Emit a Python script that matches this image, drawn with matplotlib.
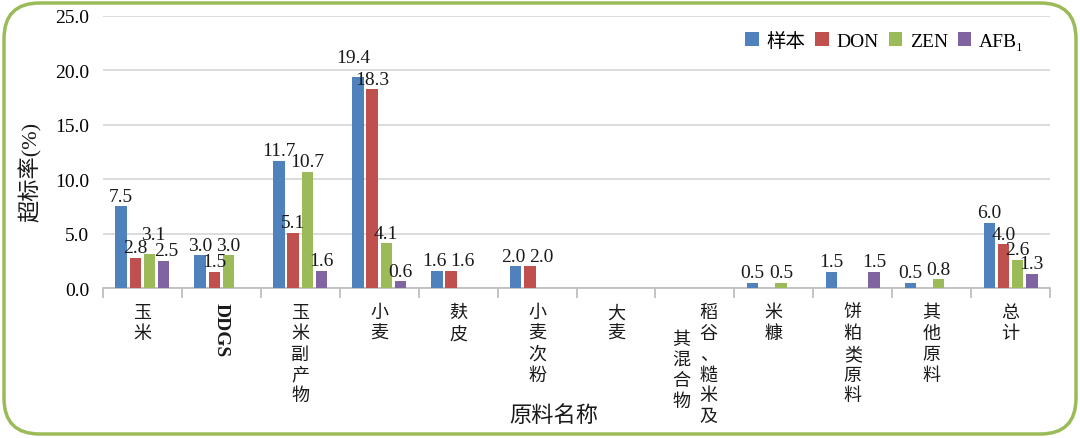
import numpy as np
import matplotlib
matplotlib.use("Agg")
import matplotlib.pyplot as plt
from matplotlib.patches import FancyBboxPatch

plt.rcParams['font.family'] = ['Liberation Serif', 'Noto Sans CJK SC', 'DejaVu Sans']

# data
categories = ["玉米", "DDGS", "玉米副产物", "小麦", "麸皮", "小麦次粉", "大麦",
              "稻谷、糙米及其混合物", "米糠", "饼粕类原料", "其他原料", "总计"]
nan = np.nan
yangben = [7.5, 3.0, 11.7, 19.4, 1.6, 2.0, nan, nan, 0.5, 1.5, 0.5, 6.0]
don = [2.8, 1.5, 5.1, 18.3, 1.6, 2.0, nan, nan, nan, nan, nan, 4.0]
zen = [3.1, 3.0, 10.7, 4.1, nan, nan, nan, nan, 0.5, nan, 0.8, 2.6]
afb1 = [2.5, nan, 1.6, 0.6, nan, nan, nan, nan, nan, 1.5, nan, 1.3]
series_names = ["样本", "DON", "ZEN", "AFB₁"]
colors = ["#4F81BD", "#C0504D", "#9BBB59", "#8064A2"]

# small shifts of some value labels (points), as Excel placed them
label_nudge = {(2, 0): (3, 7), (0, 3): (-3, 7), (1, 4): (8, 0), (1, 5): (8, 0),
               (0, 4): (-2, 0), (0, 5): (-2, 0), (3, 0): (2, 0)}

fig = plt.figure(figsize=(10.8, 4.39), dpi=100)
ax = fig.add_axes([103 / 1080, 1 - 289 / 439, 947 / 1080, 272 / 439])

# green rounded frame
frame = FancyBboxPatch((4 / 1080, 4 / 439), 1072 / 1080, 431 / 439,
                       boxstyle="round,pad=0,rounding_size=0.033",
                       transform=fig.transFigure, fill=False,
                       edgecolor="#9BBB59", linewidth=2.5, zorder=0,
                       mutation_aspect=1080 / 439)
fig.patches.append(frame)

x = np.arange(len(categories))
width = 0.145
offsets = [-0.27, -0.09, 0.09, 0.27]
all_series = [yangben, don, zen, afb1]

for si, (vals, off, col, name) in enumerate(zip(all_series, offsets, colors, series_names)):
    arr = np.array(vals, dtype=float)
    ax.bar(x + off, np.nan_to_num(arr), width, color=col, label=name, zorder=3)
    for ci, v in enumerate(arr):
        if not np.isnan(v):
            dx, dy = label_nudge.get((si, ci), (0, 0))
            ax.annotate(f"{v:.1f}", xy=(ci + off, v), xytext=(dx, 1 + dy),
                        textcoords="offset points", ha="center", va="bottom",
                        fontsize=14, color="#1a1a1a", zorder=4)

ax.set_xlim(-0.5, len(categories) - 0.5)
ax.set_ylim(0, 25)
ax.set_yticks(np.arange(0, 25.1, 5))
ax.set_yticklabels([f"{t:.1f}" for t in np.arange(0, 25.1, 5)], fontsize=14)
ax.yaxis.grid(True, color="#D9D9D9", linewidth=1.3, zorder=0)
ax.set_axisbelow(True)
ax.tick_params(axis="y", length=0, pad=10)

for s in ["top", "right", "left"]:
    ax.spines[s].set_visible(False)
ax.spines["bottom"].set_color("#BFBFBF")
ax.spines["bottom"].set_linewidth(1.3)

ax.set_xticks(np.arange(-0.5, len(categories)))
ax.set_xticklabels([])
ax.tick_params(axis="x", length=7, color="#BFBFBF", width=1.3, direction="out")

# vertical category labels
cjk = dict(ha="center", va="top", fontsize=13, linespacing=1.2,
           family="Noto Sans CJK SC", color="#1a1a1a",
           xycoords=("data", "axes fraction"), textcoords="offset points")
for i, cat in enumerate(categories):
    if cat == "DDGS":
        ax.annotate(cat, xy=(i, 0), xycoords=("data", "axes fraction"),
                    xytext=(0, -10), textcoords="offset points",
                    ha="center", va="top", rotation=-90, fontsize=14,
                    fontweight="bold", color="#1a1a1a")
    elif cat == "稻谷、糙米及其混合物":
        ax.annotate("\n".join("稻谷、糙米及"), xy=(i, 0), xytext=(10, -11), **cjk)
        ax.annotate("\n".join("其混合物"), xy=(i, 0), xytext=(-10, -30), **cjk)
    else:
        ax.annotate("\n".join(cat), xy=(i, 0), xytext=(0, -11), **cjk)

fig.text(554 / 1080, 1 - 416 / 439, "原料名称", ha="center", va="center",
         fontsize=16, family="Noto Sans CJK SC", color="#1a1a1a")
fig.text(30 / 1080, 1 - 172 / 439, "超标率(%)", ha="center", va="center",
         rotation=90, fontsize=16, color="#1a1a1a")

ax.legend(loc="upper right", bbox_to_anchor=(0.985, 0.985), ncol=4, frameon=False,
          fontsize=14, handlelength=0.7, handleheight=0.7, handletextpad=0.4,
          columnspacing=0.5, borderaxespad=0.2)

fig.savefig("out.png", dpi=100)
